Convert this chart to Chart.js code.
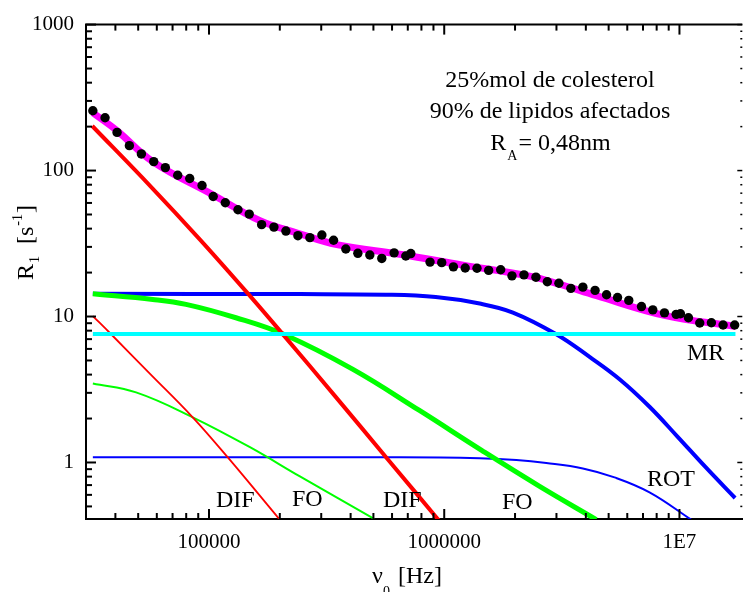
<!DOCTYPE html>
<html>
<head>
<meta charset="utf-8">
<script src="https://cdn.jsdelivr.net/npm/chart.js@4.4.0/dist/chart.umd.min.js"></script>
<style>
  html, body { margin: 0; padding: 0; background: #fff; }
  #wrap { width: 747px; height: 592px; }
</style>
</head>
<body>
<div id="wrap"><canvas id="chart" width="747" height="592"></canvas></div>
<script>
// measured R1 points (Hz, s^-1)
const freqData = [32080, 36150, 40660, 45870, 51590, 58220, 65230, 73620, 82800, 93390,
  104200, 117300, 132800, 148300, 167400, 188800, 212300, 238800, 268500, 301900,
  338500, 381700, 429300, 482700, 542700, 612300, 686400, 720800, 870300, 975900,
  1094000, 1228000, 1378000, 1545000, 1738000, 1941000, 2183000, 2454000, 2743000, 3073000,
  3454000, 3885000, 4378000, 4898000, 5454000, 6090000, 6896000, 7703000, 8635000, 9683000,
  10100000, 10920000, 12200000, 13670000, 15330000, 17170000];
const r1Data = [256.8, 230, 182.6, 148.1, 130.0, 115.2, 104.8, 92.9, 88.2, 79.0,
  66.4, 60.2, 53.9, 50.3, 42.6, 41.0, 38.5, 35.8, 34.7, 36.2,
  33.3, 29.0, 27.1, 26.4, 25.0, 27.3, 26.0, 27.0, 23.6, 23.4,
  21.9, 21.5, 21.4, 20.7, 20.9, 19.0, 19.3, 18.6, 17.3, 16.9,
  15.6, 15.9, 15.1, 14.1, 13.5, 12.9, 11.7, 11.1, 10.6, 10.35,
  10.45, 9.81, 9.03, 9.07, 8.75, 8.75];

// total fit (magenta)
const fitFreq = [32080, 40660, 57680, 103700, 164700, 238800, 349500, 658100, 1187000, 2307000, 3073000, 4443000, 8635000, 17290000];
const fitR1 = [248.9, 187.5, 115.2, 68.3, 45.4, 37.2, 31.1, 26.6, 22.6, 18.9, 16.7, 13.9, 10.19, 8.55];

// MR (cyan)
const mrFreq = [32080, 17300000];
const mrR1 = [7.6, 7.6];

// DIF (red), thick and thin
const difFreq = [31900, 56170, 91570, 149300, 208800, 342800, 573900, 952400];
const difR1 = [202, 78.6, 33.65, 13.85, 7.37, 2.86, 1.058, 0.398];
const difThinFreq = [32080, 38370, 56170, 85270, 120000, 199300];
const difThinR1 = [10.08, 7.56, 4.05, 2.04, 1.087, 0.408];

// FO (green), thick and thin
const foFreq = [32080, 57680, 79860, 130200, 208800, 407600, 781600, 1443000, 2544000, 4430000];
const foR1 = [14.31, 13.10, 12.12, 9.81, 7.53, 4.36, 2.28, 1.21, 0.686, 0.406];
const foThinFreq = [32080, 48980, 85270, 149300, 243500, 503500];
const foThinR1 = [3.48, 3.02, 2.04, 1.272, 0.802, 0.411];

// ROT (blue), thick and thin
const rotFreq = [32080, 243500, 564400, 920300, 1415000, 1959000, 2995000, 4148000, 5563000, 7460000, 9806000, 12890000, 17240000];
const rotR1 = [14.31, 14.24, 14.1, 13.59, 12.27, 10.65, 7.56, 5.29, 3.72, 2.41, 1.505, 0.932, 0.571];
const rotThinFreq = [32080, 647100, 1415000, 2026000, 2716000, 3885000, 5297000, 7460000, 11210000];
const rotThinR1 = [1.087, 1.085, 1.068, 1.040, 0.992, 0.910, 0.790, 0.624, 0.406];

// axis ticks
const xTicks = [1e5, 1e6, 1e7];
const yTicks = [1, 10, 100, 1000];

const FONT = '"Liberation Serif", "Times New Roman", serif';

function zip(xs, ys) {
    return xs.map((x, i) => ({ x: x, y: ys[i] }));
}

function curve(xs, ys, color, width) {
    return {
        data: zip(xs, ys),
        showLine: true,
        borderColor: color,
        borderWidth: width,
        pointRadius: 0,
        tension: 0.4,
        fill: false
    };
}

function minorValues(min, max) {
    const out = [];
    for (let e = Math.floor(Math.log10(min)); e <= Math.ceil(Math.log10(max)); e++) {
        for (let k = 2; k <= 9; k++) {
            const v = k * Math.pow(10, e);
            if (v > min * 1.001 && v < max * 0.999) out.push(v);
        }
    }
    return out;
}

// frame, inward ticks and texts
const decorate = {
    id: 'decorate',
    afterDraw(chart) {
        const { ctx, chartArea: a, scales } = chart;
        const xs = scales.x, ys = scales.y;
        const seg = (x1, y1, x2, y2, w) => {
            ctx.lineWidth = w;
            ctx.beginPath(); ctx.moveTo(x1, y1); ctx.lineTo(x2, y2); ctx.stroke();
        };
        ctx.save();
        ctx.strokeStyle = '#000';

        // top frame line
        seg(a.left - 1, a.top, a.right, a.top, 2);

        // x ticks (bottom + top)
        xTicks.forEach(v => {
            const px = xs.getPixelForValue(v);
            seg(px, a.bottom, px, a.bottom - 10, 2);
            seg(px, a.top, px, a.top + 10, 2);
        });
        minorValues(xs.min, xs.max).forEach(v => {
            const px = xs.getPixelForValue(v);
            seg(px, a.bottom, px, a.bottom - 6, 2);
            seg(px, a.top, px, a.top + 6, 2);
        });

        // y ticks (left solid, right only small marks)
        yTicks.forEach(v => {
            const py = ys.getPixelForValue(v);
            seg(a.left, py, a.left + 10, py, 2);
            seg(a.right, py, a.right - 5, py, 1.5);
        });
        minorValues(ys.min, ys.max).forEach(v => {
            const py = ys.getPixelForValue(v);
            seg(a.left, py, a.left + 6, py, 2);
            seg(a.right, py, a.right - 2, py, 1.5);
        });

        ctx.fillStyle = '#000';
        ctx.textBaseline = 'alphabetic';

        // curve labels
        ctx.font = '24px ' + FONT;
        ctx.textAlign = 'left';
        ctx.fillText('DIF', 216, 507);
        ctx.fillText('FO', 292, 506);
        ctx.fillText('DIF', 383, 507);
        ctx.fillText('FO', 502, 509);
        ctx.fillText('ROT', 647, 486);
        ctx.fillText('MR', 687, 360);

        // info block
        ctx.textAlign = 'center';
        ctx.fillText('25%mol de colesterol', 550, 87);
        ctx.fillText('90% de lipidos afectados', 550, 117.5);
        ctx.textAlign = 'left';
        const big = '24px ' + FONT, small = '14px ' + FONT;
        ctx.font = big;
        const wR = ctx.measureText('R').width;
        const wRest = ctx.measureText('= 0,48nm').width;
        ctx.font = small;
        const wA = ctx.measureText('A').width;
        let x0 = 550.5 - (wR + wA + 2 + wRest) / 2;
        ctx.font = big; ctx.fillText('R', x0, 149.5);
        ctx.font = small; ctx.fillText('A', x0 + wR + 1, 159.5);
        ctx.font = big; ctx.fillText('= 0,48nm', x0 + wR + wA + 2, 149.5);

        // x title
        ctx.font = big; ctx.fillText('\u03bd', 372, 583);
        ctx.font = small; ctx.fillText('0', 383, 596);
        ctx.font = big; ctx.fillText('[Hz]', 398, 583);

        // y title (rotated)
        ctx.translate(33, 280);
        ctx.rotate(-Math.PI / 2);
        let cx = 0;
        ctx.font = big; ctx.fillText('R', cx, 0); cx += ctx.measureText('R').width + 1;
        ctx.font = small; ctx.fillText('1', cx, 6); cx += ctx.measureText('1').width;
        ctx.font = big; ctx.fillText('  [s', cx, 0); cx += ctx.measureText('  [s').width + 1;
        ctx.font = small; ctx.fillText('-1', cx, -11); cx += ctx.measureText('-1').width + 1;
        ctx.font = big; ctx.fillText(']', cx, 0);

        ctx.restore();
    }
};

new Chart(document.getElementById('chart'), {
    type: 'scatter',
    data: {
        datasets: [
            {
                data: zip(freqData, r1Data),
                showLine: false,
                pointRadius: 4.7,
                pointBackgroundColor: '#000',
                pointBorderWidth: 0
            },
            curve(fitFreq, fitR1, '#ff00ff', 7),
            curve(mrFreq, mrR1, '#00ffff', 4),
            curve(difFreq, difR1, '#ff0000', 4),
            curve(foFreq, foR1, '#00ff00', 5),
            curve(rotFreq, rotR1, '#0000ff', 4),
            curve(difThinFreq, difThinR1, '#ff0000', 1.8),
            curve(foThinFreq, foThinR1, '#00ff00', 2),
            curve(rotThinFreq, rotThinR1, '#0000ff', 2)
        ]
    },
    options: {
        responsive: false,
        animation: false,
        layout: { padding: { left: 0, right: 4, top: 22, bottom: 0 } },
        plugins: { legend: { display: false }, tooltip: { enabled: false } },
        scales: {
            x: {
                type: 'logarithmic',
                min: 30000,
                max: 18500000,
                grid: { display: false, drawTicks: false },
                border: { display: true, color: '#000', width: 2 },
                afterBuildTicks: s => { s.ticks = xTicks.map(v => ({ value: v })); },
                afterFit: s => { s.height = 73; },
                ticks: {
                    autoSkip: false,
                    maxRotation: 0,
                    padding: 11,
                    color: '#000',
                    font: { family: FONT, size: 21 },
                    callback: v => v === 1e7 ? '1E7' : String(v)
                }
            },
            y: {
                type: 'logarithmic',
                min: 0.41,
                max: 1000,
                grid: { display: false, drawTicks: false },
                border: { display: true, color: '#000', width: 2 },
                afterBuildTicks: s => { s.ticks = yTicks.map(v => ({ value: v })); },
                afterFit: s => { s.width = 86; },
                ticks: {
                    autoSkip: false,
                    padding: 12,
                    color: '#000',
                    font: { family: FONT, size: 21 },
                    callback: v => String(v)
                }
            }
        }
    },
    plugins: [decorate]
});
</script>
</body>
</html>
